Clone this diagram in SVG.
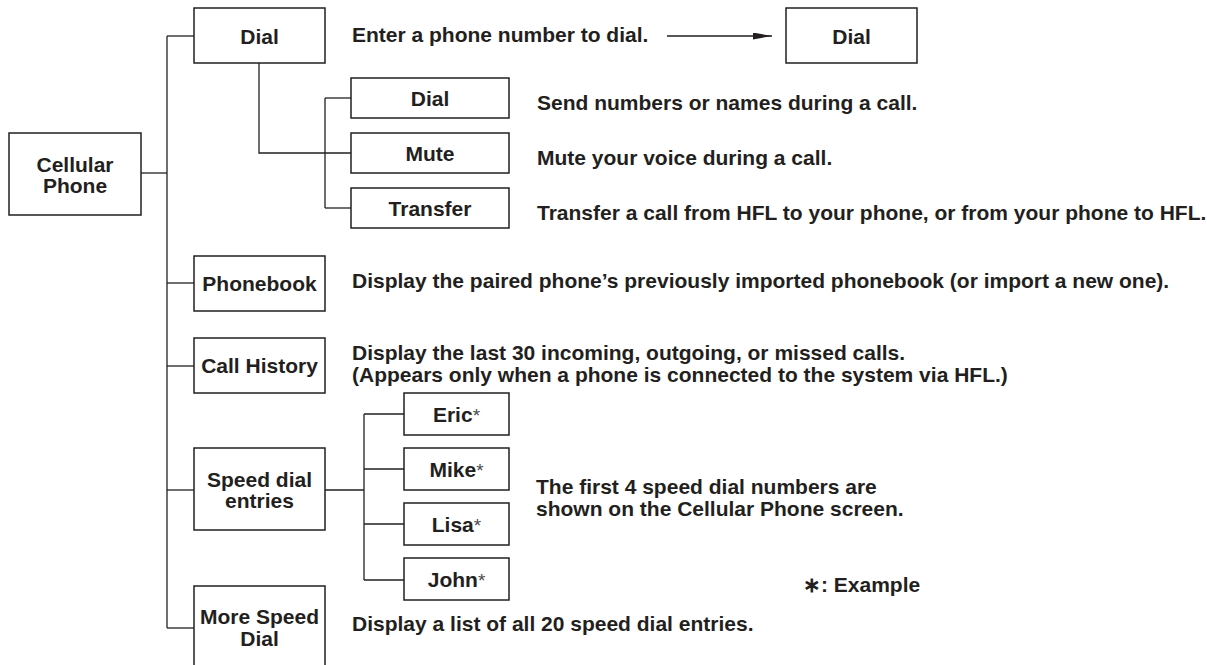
<svg xmlns="http://www.w3.org/2000/svg" width="1207" height="665" viewBox="0 0 1207 665">
<style>
  .box { fill: #ffffff; stroke: #231f20; stroke-width: 1.5; }
  .ln { fill: none; stroke: #231f20; stroke-width: 1.3; }
  text { font-family: "Liberation Sans", Arial, Helvetica, sans-serif; font-weight: bold; font-size: 21px; fill: #231f20; }
  .c { text-anchor: middle; }
  .ast { font-weight: normal; font-size: 19px; fill: #4a4a4a; }
</style>
<defs>
  <marker id="arrow" markerUnits="userSpaceOnUse" markerWidth="20" markerHeight="8" refX="19" refY="3.5" orient="auto">
    <path d="M0,0 L19,3.5 L0,7 z" fill="#231f20"/>
  </marker>
</defs>
<rect x="0" y="0" width="1207" height="665" fill="#ffffff"/>

<g id="connectors">
  <path class="ln" d="M141,173 H167"/>
  <path class="ln" d="M167,36 V628"/>
  <path class="ln" d="M167,36 H194"/>
  <path class="ln" d="M167,283 H194"/>
  <path class="ln" d="M167,366 H194"/>
  <path class="ln" d="M167,490 H194"/>
  <path class="ln" d="M167,628 H194"/>
  <path class="ln" d="M259,63 V153 H351"/>
  <path class="ln" d="M325,98 V208"/>
  <path class="ln" d="M325,98 H351"/>
  <path class="ln" d="M325,208 H351"/>
  <path class="ln" d="M325,490 H364"/>
  <path class="ln" d="M364,414 V580"/>
  <path class="ln" d="M364,414 H404"/>
  <path class="ln" d="M364,469 H404"/>
  <path class="ln" d="M364,524 H404"/>
  <path class="ln" d="M364,580 H404"/>
  <path class="ln" d="M667,36 H772" marker-end="url(#arrow)"/>
</g>

<g id="node-cellular-phone">
  <rect class="box" x="9" y="133" width="132" height="82"/>
  <text class="c" x="75" y="172">Cellular</text>
  <text class="c" x="75" y="193">Phone</text>
</g>

<g id="node-dial">
  <rect class="box" x="194" y="8" width="131" height="55"/>
  <text class="c" x="259.5" y="43.5">Dial</text>
</g>

<g id="node-dial-screen">
  <rect class="box" x="786" y="8" width="131" height="55"/>
  <text class="c" x="851.5" y="43.5">Dial</text>
</g>

<g id="node-sub-dial">
  <rect class="box" x="351" y="78" width="158" height="40"/>
  <text class="c" x="430" y="105.5">Dial</text>
</g>
<g id="node-mute">
  <rect class="box" x="351" y="133" width="158" height="40"/>
  <text class="c" x="430" y="160.5">Mute</text>
</g>
<g id="node-transfer">
  <rect class="box" x="351" y="188" width="158" height="40"/>
  <text class="c" x="430" y="215.5">Transfer</text>
</g>

<g id="node-phonebook">
  <rect class="box" x="194" y="256" width="131" height="55"/>
  <text class="c" x="259.5" y="291">Phonebook</text>
</g>
<g id="node-call-history">
  <rect class="box" x="194" y="338" width="131" height="55"/>
  <text class="c" x="259.5" y="373">Call History</text>
</g>
<g id="node-speed-dial">
  <rect class="box" x="194" y="448" width="131" height="82"/>
  <text class="c" x="259.5" y="487">Speed dial</text>
  <text class="c" x="259.5" y="508">entries</text>
</g>
<g id="node-more-speed-dial">
  <rect class="box" x="194" y="586" width="131" height="90"/>
  <text class="c" x="259.5" y="624">More Speed</text>
  <text class="c" x="259.5" y="646">Dial</text>
</g>

<g id="node-eric">
  <rect class="box" x="404" y="393" width="105" height="42"/>
  <text class="c" x="456.5" y="421.5">Eric<tspan class="ast">*</tspan></text>
</g>
<g id="node-mike">
  <rect class="box" x="404" y="448" width="105" height="42"/>
  <text class="c" x="456.5" y="476.5">Mike<tspan class="ast">*</tspan></text>
</g>
<g id="node-lisa">
  <rect class="box" x="404" y="503" width="105" height="42"/>
  <text class="c" x="456.5" y="531.5">Lisa<tspan class="ast">*</tspan></text>
</g>
<g id="node-john">
  <rect class="box" x="404" y="558" width="105" height="42"/>
  <text class="c" x="456.5" y="586.5">John<tspan class="ast">*</tspan></text>
</g>

<g id="descriptions">
  <text x="352" y="42">Enter a phone number to dial.</text>
  <text x="537" y="110">Send numbers or names during a call.</text>
  <text x="537" y="165">Mute your voice during a call.</text>
  <text x="537" y="220">Transfer a call from HFL to your phone, or from your phone to HFL.</text>
  <text x="352" y="288">Display the paired phone’s previously imported phonebook (or import a new one).</text>
  <text x="352" y="360">Display the last 30 incoming, outgoing, or missed calls.</text>
  <text x="352" y="382">(Appears only when a phone is connected to the system via HFL.)</text>
  <text x="536" y="494">The first 4 speed dial numbers are</text>
  <text x="536" y="516">shown on the Cellular Phone screen.</text>
  <text x="352" y="631">Display a list of all 20 speed dial entries.</text>
  <text x="803" y="592">∗: Example</text>
</g>
</svg>
